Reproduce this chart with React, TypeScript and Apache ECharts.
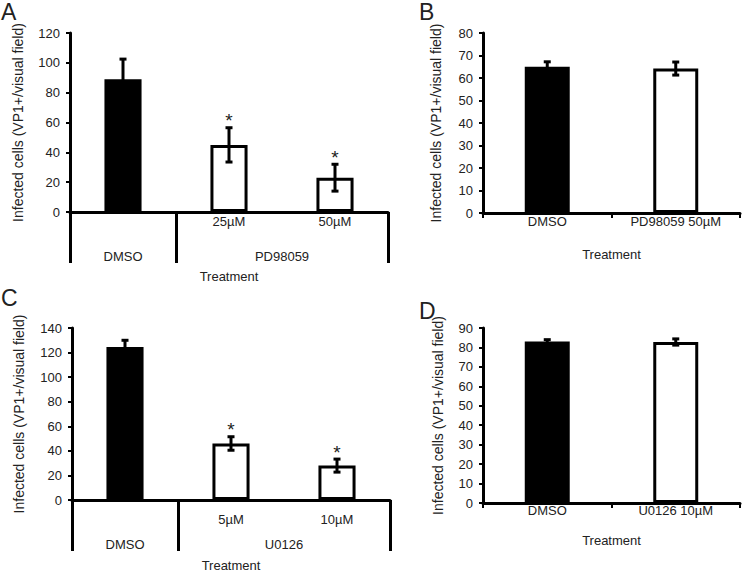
import React, { useEffect, useRef } from 'react';
import * as echarts from 'echarts';

const panelLetters = ['A', 'B', 'C', 'D'];
const yAxisName = 'Infected cells (VP1+/visual field)';
const xAxisName = 'Treatment';

// Panel A
const aCategories = ['DMSO', '25µM', '50µM'];
const aAxisLabels = ['', '25µM', '50µM'];
const aGroups = ['DMSO', 'PD98059'];
const aGroupSpans = [1, 2];
const aValues = [89, 45, 23];
const aErrors = [13.5, 11.5, 9];
const aSignificant = [false, true, true];
const aYMax = 120;
const aYInterval = 20;

// Panel B
const bCategories = ['DMSO', 'PD98059 50µM'];
const bValues = [65, 64.2];
const bErrors = [2.2, 2.9];
const bSignificant = [false, false];
const bYMax = 80;
const bYInterval = 10;

// Panel C
const cCategories = ['DMSO', '5µM', '10µM'];
const cAxisLabels = ['', '5µM', '10µM'];
const cGroups = ['DMSO', 'U0126'];
const cGroupSpans = [1, 2];
const cValues = [124.5, 46, 28];
const cErrors = [5.5, 5.5, 5.3];
const cSignificant = [false, true, true];
const cYMax = 140;
const cYInterval = 20;

// Panel D
const dCategories = ['DMSO', 'U0126 10µM'];
const dValues = [83, 82.8];
const dErrors = [1, 1.6];
const dSignificant = [false, false];
const dYMax = 90;
const dYInterval = 10;

const FONT = "'Liberation Sans', Arial, Helvetica, sans-serif";
const TEXT = '#222';

type Panel = {
  grid: { left: number; right: number; top: number; bottom: number };
  categories: string[];
  axisLabels: string[];
  groups?: string[];
  groupSpans?: number[];
  values: number[];
  errors: number[];
  significant: boolean[];
  yMax: number;
  yInterval: number;
  yNameGap: number;
  subLabelMargin: number;
  groupLabelMargin: number;
  xNameGap: number;
  letter: string;
  letterPos: { left: number; top: number };
};

const panels: Panel[] = [
  {
    grid: { left: 70, right: 354, top: 33, bottom: 364 },
    categories: aCategories, axisLabels: aAxisLabels, groups: aGroups, groupSpans: aGroupSpans,
    values: aValues, errors: aErrors, significant: aSignificant, yMax: aYMax, yInterval: aYInterval,
    yNameGap: 45, subLabelMargin: 3, groupLabelMargin: 38, xNameGap: 58,
    letter: panelLetters[0], letterPos: { left: 1, top: 0 },
  },
  {
    grid: { left: 483, right: 2, top: 33, bottom: 363 },
    categories: bCategories, axisLabels: bCategories,
    values: bValues, errors: bErrors, significant: bSignificant, yMax: bYMax, yInterval: bYInterval,
    yNameGap: 40, subLabelMargin: 2, groupLabelMargin: 0, xNameGap: 35,
    letter: panelLetters[1], letterPos: { left: 419, top: 0 },
  },
  {
    grid: { left: 72, right: 352, top: 328, bottom: 76 },
    categories: cCategories, axisLabels: cAxisLabels, groups: cGroups, groupSpans: cGroupSpans,
    values: cValues, errors: cErrors, significant: cSignificant, yMax: cYMax, yInterval: cYInterval,
    yNameGap: 46, subLabelMargin: 13, groupLabelMargin: 38, xNameGap: 59,
    letter: panelLetters[2], letterPos: { left: 1, top: 286 },
  },
  {
    grid: { left: 483, right: 2, top: 328, bottom: 73 },
    categories: dCategories, axisLabels: dCategories,
    values: dValues, errors: dErrors, significant: dSignificant, yMax: dYMax, yInterval: dYInterval,
    yNameGap: 38, subLabelMargin: 1, groupLabelMargin: 0, xNameGap: 31,
    letter: panelLetters[3], letterPos: { left: 419, top: 299 },
  },
];

function buildOption() {
  const grid: any[] = [];
  const xAxis: any[] = [];
  const yAxis: any[] = [];
  const series: any[] = [];
  const title: any[] = [];

  panels.forEach((p, gi) => {
    grid.push({ ...p.grid, containLabel: false });
    title.push({
      text: p.letter, left: p.letterPos.left, top: p.letterPos.top, padding: 0,
      textStyle: { fontFamily: FONT, fontSize: 23, fontWeight: 'normal', color: TEXT },
    });
    const mainX = xAxis.length;
    const hasGroups = !!p.groups;
    xAxis.push({
      type: 'category', gridIndex: gi, data: p.categories, position: 'bottom',
      axisLine: { show: true, onZero: false, lineStyle: { color: '#000', width: 3 } },
      axisTick: { show: !hasGroups, length: 5, lineStyle: { color: '#000', width: 2 } },
      axisLabel: {
        margin: p.subLabelMargin, fontFamily: FONT, fontSize: 13, color: TEXT,
        formatter: (_v: string, i: number) => p.axisLabels[i],
      },
      splitLine: { show: false },
      name: hasGroups ? '' : xAxisName,
      nameLocation: 'middle', nameGap: p.xNameGap,
      nameTextStyle: { fontFamily: FONT, fontSize: 13, color: TEXT },
    });
    if (hasGroups) {
      const spans = p.groupSpans as number[];
      const groups = p.groups as string[];
      const bounds: number[] = [0];
      spans.forEach((s) => bounds.push(bounds[bounds.length - 1] + s));
      const centers = spans.map((s, i) => bounds[i] + s / 2);
      xAxis.push({
        type: 'value', gridIndex: gi, min: 0, max: bounds[bounds.length - 1], position: 'bottom',
        axisLine: { show: false, onZero: false },
        axisTick: { show: true, customValues: bounds, length: 51, lineStyle: { color: '#000', width: 3 } },
        axisLabel: {
          show: true, customValues: centers, margin: p.groupLabelMargin,
          fontFamily: FONT, fontSize: 13, color: TEXT,
          formatter: (v: number) => {
            const i = centers.findIndex((c) => Math.abs(c - v) < 1e-6);
            return i >= 0 ? groups[i] : '';
          },
        },
        splitLine: { show: false },
        name: xAxisName, nameLocation: 'middle', nameGap: p.xNameGap,
        nameTextStyle: { fontFamily: FONT, fontSize: 13, color: TEXT },
      });
    }
    yAxis.push({
      type: 'value', gridIndex: gi, min: 0, max: p.yMax, interval: p.yInterval,
      axisLine: { show: true, onZero: false, lineStyle: { color: '#000', width: 3 } },
      axisTick: { show: true, length: 4, lineStyle: { color: '#000', width: 2 } },
      axisLabel: { margin: 10, fontFamily: FONT, fontSize: 13, color: TEXT },
      splitLine: { show: false },
      name: yAxisName, nameLocation: 'middle', nameGap: p.yNameGap, nameRotate: 90,
      nameTextStyle: { fontFamily: FONT, fontSize: 14, color: TEXT },
    });

    series.push({
      type: 'bar', xAxisIndex: mainX, yAxisIndex: gi, barWidth: '35%',
      data: p.values.map((v, i) => ({
        value: v,
        itemStyle: {
          color: i === 0 ? '#000' : '#fff',
          borderColor: '#000', borderWidth: 3,
        },
      })),
      z: 2,
    });
    series.push({
      type: 'custom', xAxisIndex: mainX, yAxisIndex: gi, z: 3,
      encode: { x: 0, y: 1 },
      data: p.values.map((v, i) => [i, v, p.errors[i], p.significant[i] ? 1 : 0]),
      renderItem: (_params: any, api: any) => {
        const x = api.value(0);
        const v = api.value(1);
        const e = api.value(2);
        const sig = api.value(3);
        const top = api.coord([x, v + e]);
        const bot = api.coord([x, v - e]);
        const half = 3.5;
        const st = { stroke: '#000', lineWidth: 3 };
        const children: any[] = [
          { type: 'line', shape: { x1: top[0], y1: top[1], x2: bot[0], y2: bot[1] }, style: st },
          { type: 'line', shape: { x1: top[0] - half, y1: top[1], x2: top[0] + half, y2: top[1] }, style: st },
          { type: 'line', shape: { x1: bot[0] - half, y1: bot[1], x2: bot[0] + half, y2: bot[1] }, style: st },
        ];
        if (sig) {
          children.push({
            type: 'text', x: top[0], y: top[1] - 7,
            style: { text: '*', fill: TEXT, fontFamily: FONT, fontSize: 19, align: 'center', verticalAlign: 'middle' },
          });
        }
        return { type: 'group', children };
      },
    });
  });

  return { animation: false, backgroundColor: '#fff', title, grid, xAxis, yAxis, series };
}

export default function App() {
  const ref = useRef<HTMLDivElement>(null);
  useEffect(() => {
    if (!ref.current) return;
    const chart = echarts.init(ref.current, undefined, { renderer: 'svg' });
    chart.setOption(buildOption() as any);
    return () => chart.dispose();
  }, []);
  return (
    <div
      ref={ref}
      style={{ position: 'fixed', left: 0, top: 0, width: 742, height: 576, background: '#fff' }}
    />
  );
}
